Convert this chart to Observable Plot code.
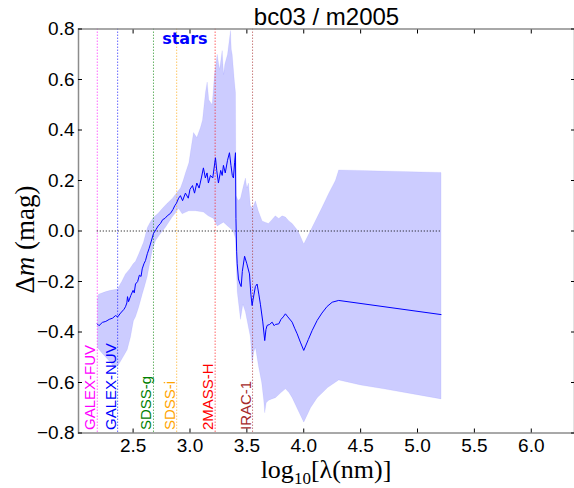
<!DOCTYPE html>
<html><head><meta charset="utf-8">
<script src="https://cdn.jsdelivr.net/npm/d3@7"></script>
<script src="https://cdn.jsdelivr.net/npm/@observablehq/plot@0.6"></script>
<style>body{margin:0;background:#fff} #chart{width:574px;height:488px}</style>
</head><body><div id="chart"></div>
<script>
const titleText = "bc03 / m2005";
const annotation = "stars";
const annotationX = 2.955;
const xTicks = [2.5, 3.0, 3.5, 4.0, 4.5, 5.0, 5.5, 6.0];
const yTicks = [-0.8, -0.6, -0.4, -0.2, 0.0, 0.2, 0.4, 0.6, 0.8];
const xDomain = [2.02, 6.38];
const yDomain = [-0.8, 0.8];

const filterNames = ["GALEX-FUV", "GALEX-NUV", "SDSS-g", "SDSS-i", "2MASS-H", "IRAC-1"];
const filterX = [2.185, 2.364, 2.679, 2.883, 3.221, 3.550];
const filterColors = ["#ff00ff", "#0000ff", "#008000", "#ffa500", "#ff0000", "#a52a2a"];

const zeroLineX = [2.185, 5.207];

// median offset (log10 lambda, delta mag)
const lineX = [2.185,2.20,2.23,2.26,2.29,2.32,2.345,2.365,2.39,2.42,2.433,2.445,2.451,2.46,2.48,2.50,2.51,2.521,2.54,2.555,2.57,2.58,2.595,2.609,2.625,2.64,2.66,2.679,2.70,2.72,2.741,2.76,2.78,2.80,2.829,2.85,2.866,2.881,2.90,2.916,2.935,2.96,2.985,3.00,3.022,3.04,3.06,3.08,3.10,3.118,3.135,3.15,3.162,3.18,3.20,3.224,3.235,3.250,3.27,3.283,3.294,3.31,3.33,3.347,3.36,3.372,3.382,3.392,3.400,3.404,3.41,3.415,3.426,3.44,3.450,3.46,3.48,3.50,3.523,3.535,3.546,3.555,3.575,3.59,3.605,3.619,3.64,3.657,3.668,3.678,3.70,3.722,3.74,3.751,3.78,3.80,3.82,3.839,3.86,3.898,3.92,3.942,3.97,4.000,4.04,4.074,4.118,4.16,4.205,4.25,4.307,5.207];
const lineY = [-0.368,-0.375,-0.362,-0.358,-0.35,-0.345,-0.335,-0.34,-0.325,-0.31,-0.30,-0.285,-0.26,-0.28,-0.255,-0.235,-0.245,-0.21,-0.20,-0.175,-0.18,-0.15,-0.13,-0.117,-0.09,-0.07,-0.04,-0.01,0.005,0.02,0.03,0.045,0.05,0.06,0.07,0.085,0.10,0.11,0.13,0.14,0.12,0.15,0.13,0.165,0.18,0.15,0.19,0.17,0.21,0.25,0.21,0.23,0.19,0.22,0.21,0.29,0.24,0.19,0.24,0.22,0.26,0.23,0.28,0.31,0.26,0.22,0.21,0.27,0.31,0.05,-0.08,-0.13,-0.19,-0.21,-0.22,-0.16,-0.10,-0.13,-0.17,-0.25,-0.295,-0.27,-0.22,-0.21,-0.25,-0.29,-0.36,-0.434,-0.39,-0.374,-0.37,-0.361,-0.375,-0.37,-0.368,-0.35,-0.34,-0.328,-0.34,-0.361,-0.385,-0.407,-0.44,-0.473,-0.43,-0.394,-0.354,-0.325,-0.299,-0.282,-0.275,-0.331];

// upper edge of spread
const upperX = [2.185,2.196,2.23,2.26,2.30,2.365,2.38,2.40,2.433,2.47,2.50,2.521,2.55,2.591,2.626,2.65,2.679,2.72,2.758,2.80,2.846,2.88,2.916,2.94,2.96,2.99,3.01,3.031,3.06,3.092,3.11,3.136,3.151,3.165,3.18,3.195,3.215,3.239,3.26,3.283,3.295,3.306,3.33,3.356,3.363,3.371,3.391,3.400,3.404,3.425,3.444,3.465,3.487,3.50,3.514,3.531,3.55,3.575,3.60,3.634,3.66,3.69,3.72,3.75,3.78,3.81,3.839,3.87,3.898,3.95,4.000,4.074,4.161,4.22,4.278,4.307,5.207];
const upperY = [-0.275,-0.25,-0.245,-0.24,-0.235,-0.23,-0.215,-0.20,-0.17,-0.15,-0.13,-0.12,-0.09,-0.045,0.015,0.035,0.054,0.07,0.09,0.11,0.13,0.15,0.17,0.20,0.23,0.27,0.33,0.39,0.37,0.41,0.44,0.55,0.59,0.52,0.51,0.50,0.62,0.70,0.64,0.715,0.62,0.66,0.70,0.794,0.72,0.70,0.59,0.55,0.14,0.12,0.13,0.17,0.21,0.17,0.19,0.10,0.09,0.12,0.08,0.04,0.035,0.03,0.045,0.06,0.05,0.06,0.055,0.04,0.03,0.0,-0.051,0.015,0.094,0.15,0.2,0.242,0.232];

// lower edge of spread
const lowerX = [2.185,2.22,2.26,2.30,2.330,2.371,2.41,2.448,2.477,2.503,2.521,2.55,2.580,2.60,2.624,2.645,2.668,2.697,2.74,2.784,2.843,2.87,2.899,2.931,2.989,3.048,3.118,3.16,3.206,3.239,3.294,3.33,3.356,3.38,3.400,3.415,3.444,3.465,3.487,3.531,3.546,3.56,3.575,3.604,3.63,3.648,3.657,3.67,3.692,3.72,3.751,3.80,3.839,3.87,3.898,3.95,4.000,4.06,4.118,4.21,4.307,4.50,4.703,5.207];
const lowerY = [-0.46,-0.48,-0.50,-0.52,-0.54,-0.53,-0.50,-0.47,-0.42,-0.355,-0.34,-0.30,-0.25,-0.22,-0.18,-0.13,-0.077,-0.038,-0.01,0.015,0.055,0.07,0.09,0.068,0.08,0.08,0.075,0.06,0.05,0.02,0.035,0.02,0.01,0.0,-0.03,-0.24,-0.35,-0.29,-0.32,-0.42,-0.525,-0.48,-0.46,-0.54,-0.60,-0.67,-0.72,-0.68,-0.67,-0.665,-0.66,-0.64,-0.625,-0.64,-0.66,-0.71,-0.757,-0.70,-0.66,-0.62,-0.59,-0.61,-0.625,-0.665];

// tables built from the arrays
const medianLine = lineX.map((x, i) => ({x, y: lineY[i]}));
const band = upperX.map((x, i) => ({x, y: upperY[i]}))
  .concat(lowerX.map((x, i) => ({x, y: lowerY[i]})).reverse());
const filters = filterNames.map((name, i) => ({name, x: filterX[i], color: filterColors[i]}));

const fmt = d3.format(".1f");
const sans = "'Liberation Sans', Arial, sans-serif";
const serif = "'Liberation Serif', 'Times New Roman', serif";

const plot = Plot.plot({
  width: 574, height: 488,
  marginLeft: 78, marginRight: 0, marginTop: 28.5, marginBottom: 55.5,
  x: {domain: xDomain},
  y: {domain: yDomain},
  color: {type: "identity"},
  style: {fontFamily: sans, background: "white", color: "black"},
  marks: [
    Plot.line(band, {x: "x", y: "y", fill: "#0000ff", fillOpacity: 0.2, stroke: "#0000ff", strokeOpacity: 0.06, strokeWidth: 1}),
    Plot.ruleX(filters, {x: "x", stroke: "color", strokeDasharray: "1.5,1.5", strokeWidth: 1, strokeOpacity: 0.6}),
    Plot.ruleY([{y: 0, x1: zeroLineX[0], x2: zeroLineX[1]}], {y: "y", x1: "x1", x2: "x2", stroke: "black", strokeDasharray: "1,2", strokeWidth: 1}),
    Plot.line(medianLine, {x: "x", y: "y", stroke: "#0000ff", strokeWidth: 1}),
    Plot.text(filters, {x: "x", y: () => yDomain[0], text: "name", fill: "color", rotate: -90, textAnchor: "start", lineAnchor: "bottom", dx: -2, dy: -3, fontSize: 15}),
    Plot.text([annotation], {x: () => annotationX, y: () => yDomain[1], text: d => d, fill: "#0000ff", fontWeight: "bold", fontFamily: "'DejaVu Sans', sans-serif", fontSize: 16, lineAnchor: "bottom", dy: 14.5}),
    Plot.text([titleText], {frameAnchor: "top", text: d => d, lineAnchor: "bottom", dy: -4, fontSize: 24}),
    Plot.frame({stroke: "#8c8c8c", strokeWidth: 1.5}),
    Plot.axisX({anchor: "bottom", ticks: xTicks, tickSize: -4, tickPadding: 9, tickFormat: fmt, fontSize: 19, label: null}),
    Plot.axisX({anchor: "top", ticks: xTicks, tickSize: -4, tickFormat: () => "", label: null}),
    Plot.axisY({anchor: "left", ticks: yTicks, tickSize: -4, tickPadding: 8, tickFormat: fmt, fontSize: 19, label: null}),
    Plot.axisY({anchor: "right", ticks: yTicks, tickSize: -4, tickFormat: () => "", label: null})
  ]
});

// axis titles with math styling
const sx = plot.scale("x"), sy = plot.scale("y");
const svg = d3.select(plot);
const cx = (sx.range[0] + sx.range[1]) / 2;
const cy = (sy.range[0] + sy.range[1]) / 2;

const xl = svg.append("text")
  .attr("x", cx).attr("y", 478)
  .attr("text-anchor", "middle")
  .style("font-family", serif).style("font-size", "26px").attr("fill", "black");
xl.append("tspan").text("log");
xl.append("tspan").attr("dy", 6).style("font-size", "17px").text("10");
xl.append("tspan").attr("dy", -6).text("[λ(nm)]");

const yl = svg.append("text")
  .attr("transform", `translate(34,${cy + 9}) rotate(-90)`)
  .attr("text-anchor", "middle")
  .style("font-family", serif).style("font-size", "27px").attr("fill", "black");
yl.append("tspan").text("Δ");
yl.append("tspan").style("font-style", "italic").text("m");
yl.append("tspan").text(" (mag)");

document.getElementById("chart").append(plot);
</script>
</body></html>
